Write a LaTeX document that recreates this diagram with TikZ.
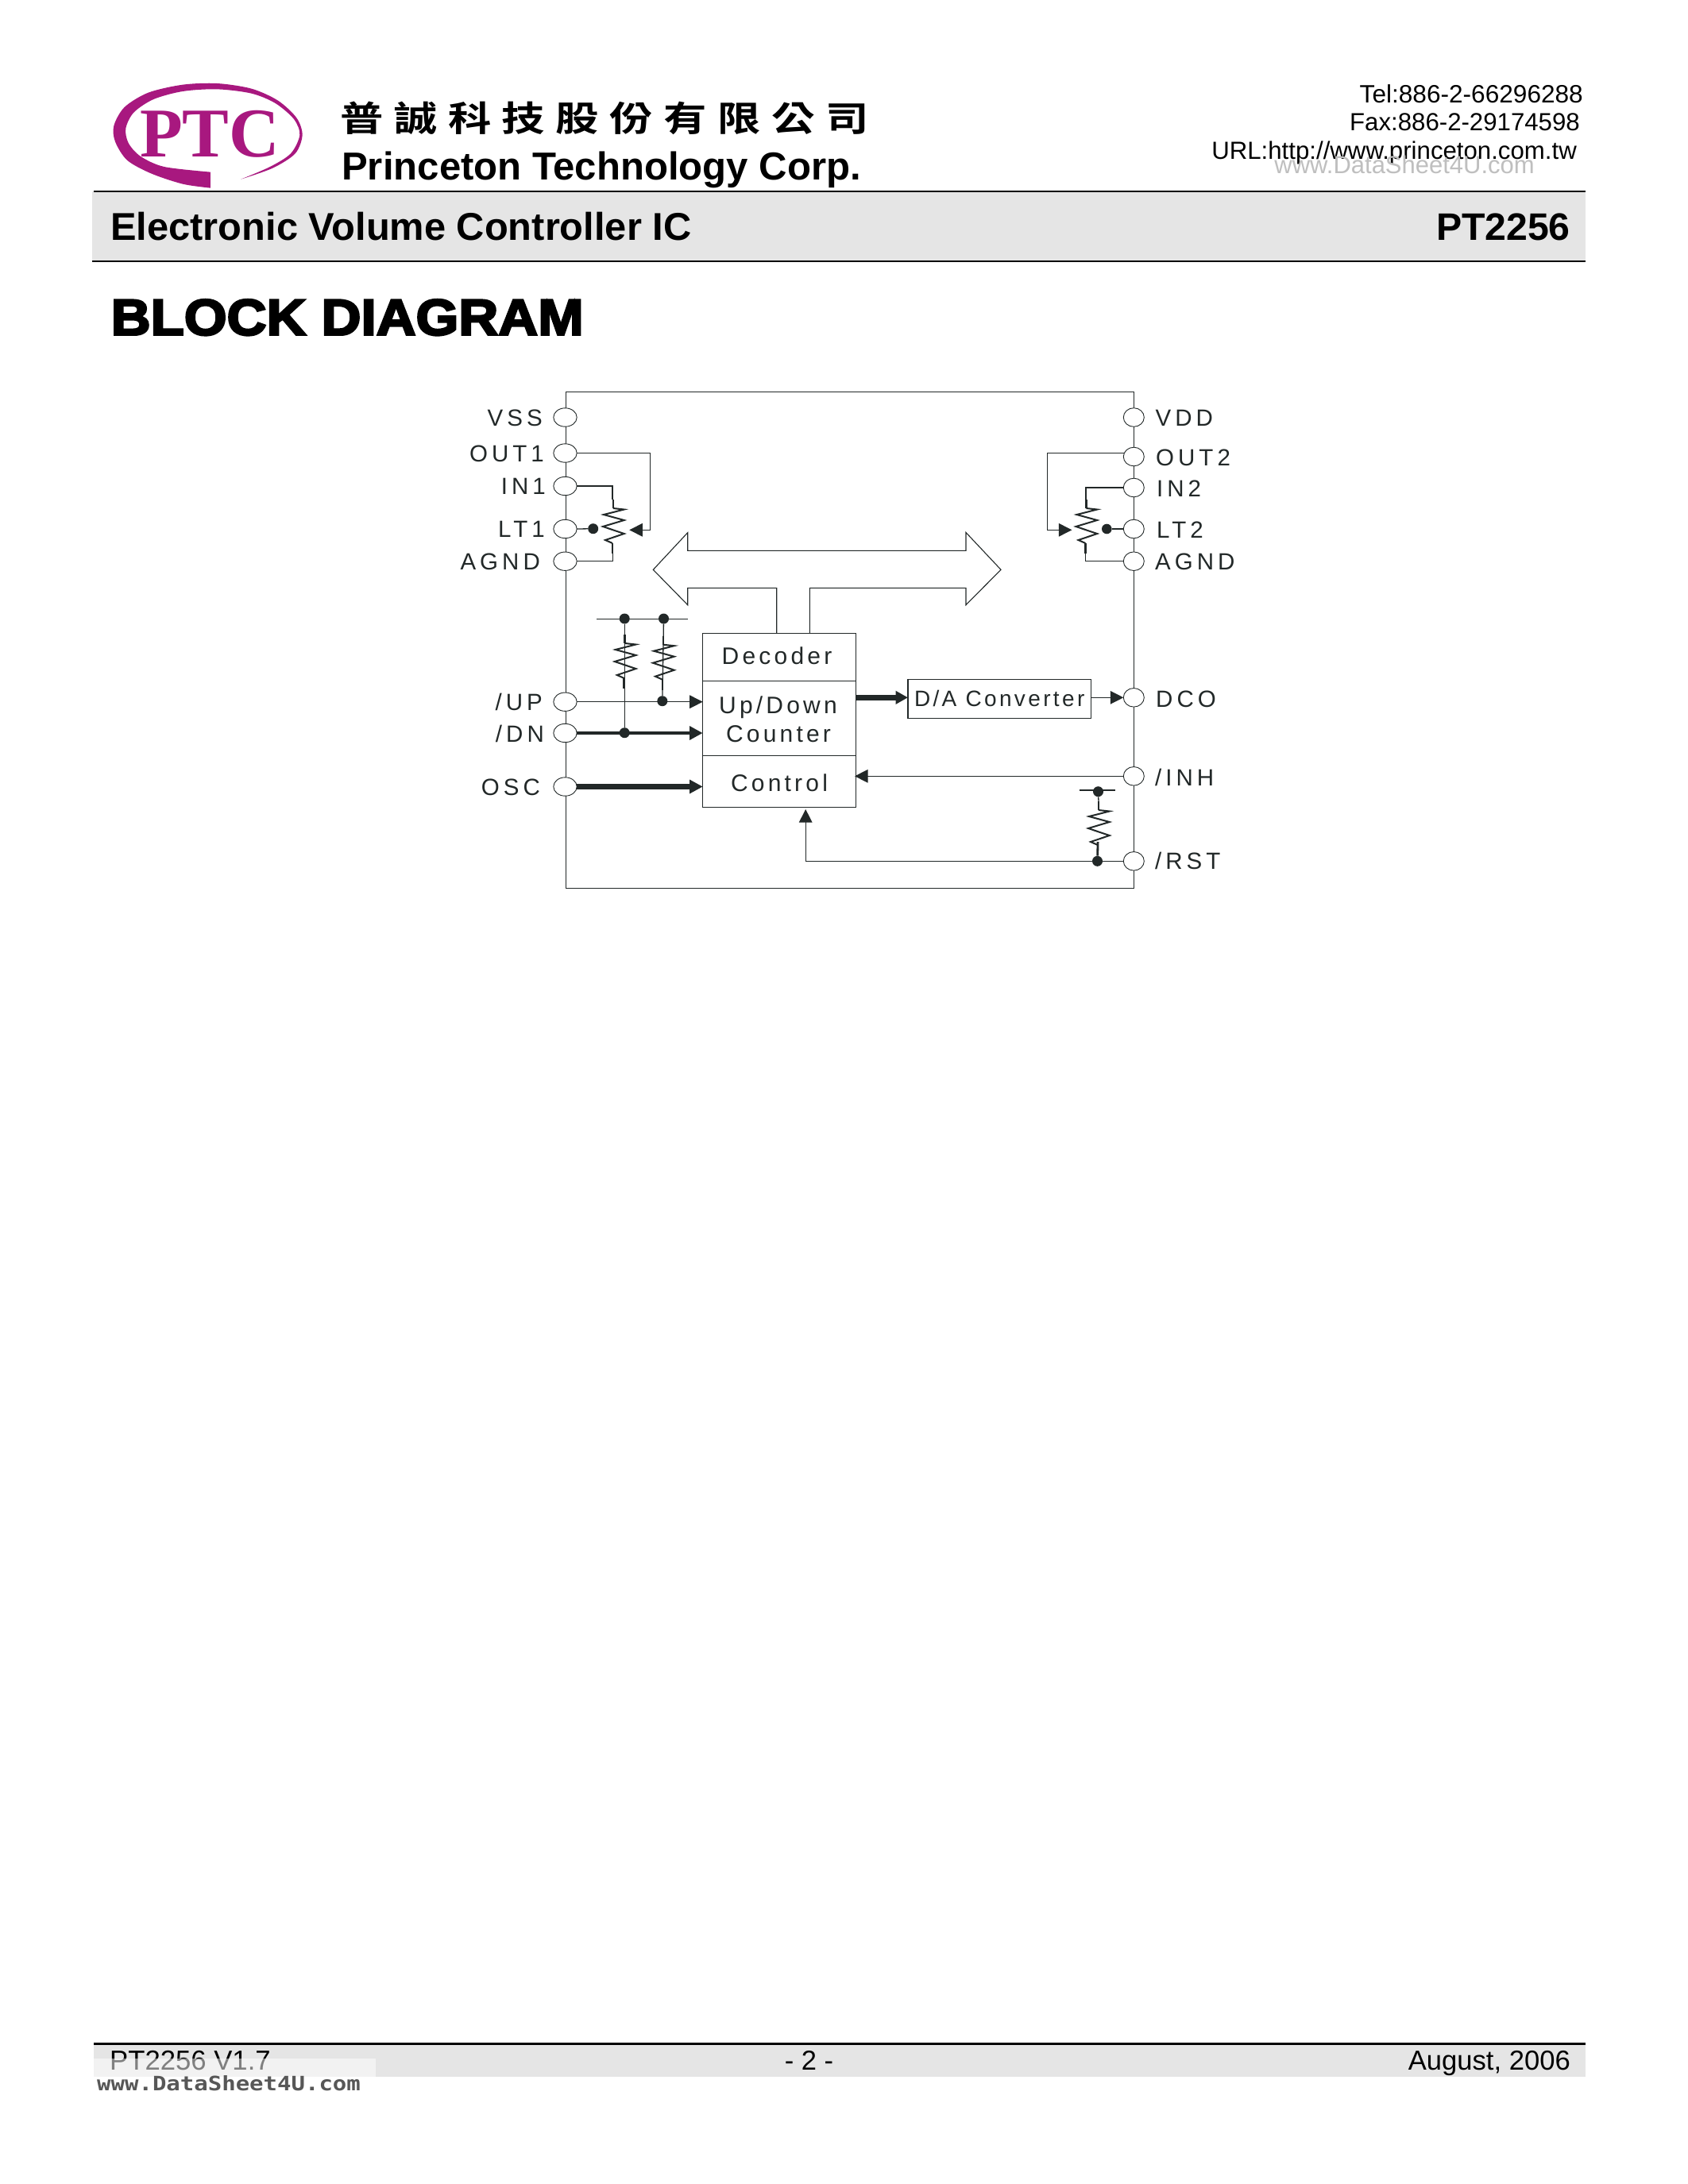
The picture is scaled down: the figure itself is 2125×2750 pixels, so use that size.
\documentclass[tikz,border=0pt]{standalone}
\usepackage{fontspec}
\usetikzlibrary{arrows.meta,shapes.geometric}
\setmainfont{Liberation Sans}
\newfontfamily\labfont[LetterSpace=17]{Liberation Sans}
\newfontfamily\blockfont[LetterSpace=14]{Liberation Sans}
\newfontfamily\dafont[LetterSpace=12]{Liberation Sans}
\newfontfamily\heavyfont[FakeBold=4,FakeStretch=1.08]{Liberation Sans Bold}
\newfontfamily\logofont{Liberation Serif Bold}
\newfontfamily\monofont{DejaVu Sans Mono Bold}
\newfontfamily\cjkfont[LetterSpace=25]{Noto Sans CJK TC Bold}
\newcommand\pxfont[1]{\fontsize{#1}{#1}\selectfont}
\definecolor{ink}{HTML}{222828}
\definecolor{band}{HTML}{E5E5E5}
\definecolor{ptc}{HTML}{A8187F}
\tikzset{
  wire/.style={draw=ink,line width=1.3pt,line join=miter},
  hvy/.style={draw=ink,line width=4.5pt},
  hvyy/.style={draw=ink,line width=6.7pt},
  tip/.style={-{Triangle[length=16.5pt,width=16.5pt,fill=ink]}},
  pinl/.style={ellipse,draw=ink,line width=0.9pt,fill=white,inner sep=0pt,outer sep=0pt,minimum width=29.4pt,minimum height=23.4pt},
  pinr/.style={ellipse,draw=ink,line width=0.9pt,fill=white,inner sep=0pt,outer sep=0pt,minimum width=26pt,minimum height=23.6pt},
  lab/.style={inner sep=0pt,text=ink,font=\labfont\pxfont{29.5}},
  labl/.style={lab,anchor=base east},
  labr/.style={lab,anchor=base west},
  blockbox/.style={draw=ink,line width=1.3pt,inner sep=0pt,outer sep=0pt,minimum width=192.6pt,text=ink,font=\blockfont\pxfont{30},align=center},
  dotnode/.style={circle,fill=ink,inner sep=0pt,minimum size=13pt},
  head/.style={inner sep=0pt,text=black},
  zig/.pic={
    \draw[draw=ink,line width=2pt,line join=miter] (0,0)--(13.7,1.5)--(-12,8)--(13.7,15)--(-13,23)--(13.7,32)--(-10,40)--(-1,44);
    \draw[draw=ink,line width=2.8pt] (0,-11)--(0,0) (-1,44)--(-1,57);
  }
}
\begin{document}
\begin{tikzpicture}[x=1pt,y=-1pt]
\useasboundingbox (0,0) rectangle (2125,2750);
\fill[white] (0,0) rectangle (2125,2750);

% --- logo
\begin{scope}[xshift=130pt,yshift=-95pt,x=0.3333pt,y=-0.3333pt]
\fill[ptc] plot[smooth] coordinates {(405,425)(300,410)(180,370)(90,320)(45,250)(40,190)(80,120)(170,65)(300,35)(430,30)(560,50)(660,95)(730,160)(752,225)(725,295)(640,350)(520,392)}
 -- plot[smooth] coordinates {(520,392)(630,345)(708,295)(742,225)(720,165)(650,105)(560,68)(430,52)(300,60)(190,90)(115,140)(85,200)(95,255)(140,305)(230,345)(405,365)} -- cycle;
\end{scope}
\node[head,anchor=base,text=ptc,font=\logofont\pxfont{88}] (logoptc) at (264,197) {PTC};
\node[head,anchor=base west,font=\cjkfont\pxfont{44}] (cjkname) at (428,165) {\scalebox{1.235}[1]{普誠科技股份有限公司}};
\node[head,anchor=base west,font=\bfseries\pxfont{49.1}] (engname) at (430,226.7) {Princeton Technology Corp.};

% --- contact
\node[head,anchor=base east,font=\pxfont{31.6}] (tel) at (1993,129.3) {Tel:886-2-66296288};
\node[head,anchor=base east,font=\pxfont{31.2}] (fax) at (1989,164) {Fax:886-2-29174598};
\node[head,anchor=base east,font=\pxfont{31.2}] (url) at (1985,200.7) {URL:http://www.princeton.com.tw};
\node[head,anchor=base east,text=black!25,font=\pxfont{31}] (wm1) at (1932,218) {www.DataSheet4U.com};

% --- header band
\fill[band] (116,241) rectangle (1996,328);
\draw[black,line width=2pt] (118,241) -- (1996,241);
\draw[black,line width=2pt] (116,328.5) -- (1996,328.5);
\node[head,anchor=base west,font=\bfseries\pxfont{48.8}] (title) at (139,302.7) {Electronic Volume Controller IC};
\node[head,anchor=base east,font=\bfseries\pxfont{48.2}] (part) at (1977,302.7) {PT2256};
\node[head,anchor=base west,font=\heavyfont\pxfont{64}] (bd) at (139.5,421.7) {BLOCK DIAGRAM};

% --- chip outline
\draw[wire] (712.8,493.3) rectangle (1427.3,1118.3);

% --- double arrow / bus
\draw[wire,line width=1.1pt] (977.7,797.3) -- (977.7,740.3) -- (865.7,740.3) -- (865.7,761.7) -- (822.3,717.3) -- (865.7,670.7) -- (865.7,693.3) -- (1216,693.3) -- (1216,670.5) -- (1260,717.3) -- (1216,761.7) -- (1216,740.3) -- (1019.4,740.3) -- (1019.4,797.3);

% --- blocks
\node[blockbox,minimum height=60pt,text height=18.8pt,text depth=0pt] (decoder) at (981,827.3) {Decoder\kern6pt};
\node[blockbox,minimum height=94pt] (counter) at (981,904.3) {\rule{0pt}{24pt}Up/Down\kern3pt\\[6pt]Counter\kern2pt};
\node[blockbox,minimum height=65pt,text height=25.4pt,text depth=0pt] (control) at (981,983.8) {Control};
\node[draw=ink,line width=1.3pt,inner sep=0pt,outer sep=0pt,minimum width=230.4pt,minimum height=49pt,text=ink,font=\dafont\pxfont{28},text height=19pt,text depth=0pt] (da) at (1258.2,879.8) {D/A Converter};

% --- pins left
\node[pinl] (vss) at (711.5,525.5) {};
\node[pinl] (out1) at (711.5,570.5) {};
\node[pinl] (in1) at (711.5,612) {};
\node[pinl] (lt1) at (711.5,666) {};
\node[pinl] (agndl) at (711.5,706.7) {};
\node[pinl] (up) at (711.5,883.7) {};
\node[pinl] (dn) at (711.5,923) {};
\node[pinl] (osc) at (711.5,990.5) {};
% --- pins right
\node[pinr] (vdd) at (1427.3,525.5) {};
\node[pinr] (out2) at (1427.3,575) {};
\node[pinr] (in2) at (1427.3,614) {};
\node[pinr] (lt2) at (1427.3,666) {};
\node[pinr] (agndr) at (1427.3,706.7) {};
\node[pinr] (dco) at (1427.3,878.3) {};
\node[pinr] (inh) at (1427.3,977.3) {};
\node[pinr] (rst) at (1427.3,1084.3) {};

% --- labels
\node[labl] (tvss) at (683,536) {VSS};
\node[labl] (tout1) at (685,581) {OUT1};
\node[labl] (tin1) at (687,622.7) {IN1};
\node[labl] (tlt1) at (686,676.7) {LT1};
\node[labl] (tagndl) at (680,717.7) {AGND};
\node[labl] (tup) at (683,894) {/UP};
\node[labl] (tdn) at (685,934) {/DN};
\node[labl] (tosc) at (680,1001) {OSC};
\node[labr] (tvdd) at (1454.5,536.7) {VDD};
\node[labr] (tout2) at (1455,586) {OUT2};
\node[labr] (tin2) at (1456,625) {IN2};
\node[labr] (tlt2) at (1456,677.7) {LT2};
\node[labr] (tagndr) at (1454,717) {AGND};
\node[labr] (tdco) at (1455,890) {DCO};
\node[labr] (tinh) at (1454,989) {/INH};
\node[labr] (trst) at (1454,1094) {/RST};

% --- left volume resistor
\pic at (772,640) {zig};
\coordinate (r1t) at (771,629);
\coordinate (r1b) at (771.5,697);
\node[dotnode] (d1) at (746.7,665.7) {};
\draw[wire] (in1.east) -| (r1t);
\draw[wire] (r1b) |- (agndl.east);
\draw[wire] (lt1.east) -- (d1);
\coordinate (tipl) at (792.3,667.3);
\draw[wire,tip] (out1.east) -| (818.7,667.3) -- (tipl);

% --- right volume resistor
\pic at (1367.5,640) {zig};
\coordinate (r5t) at (1367,640);
\coordinate (r5b) at (1366.5,697);
\node[dotnode,minimum size=12.6pt] (d5) at (1393.3,666) {};
\draw[wire] (in2.west) -| (r5t);
\draw[wire] (r5b) |- (agndr.west);
\draw[wire] (lt2.west) -- (d5);
\coordinate (tipr) at (1349.4,667.3);
\draw[wire,tip] (out2.160) -| (1318.3,667.3) -- (tipr);

% --- pull-ups on /UP and /DN
\coordinate (busl) at (751,779.3);
\coordinate (busr) at (865.8,779.3);
\draw[wire] (busl) -- (busr);
\node[dotnode] (d2) at (786.2,779) {};
\node[dotnode] (d3) at (835.5,779) {};
\node[dotnode] (d4) at (786.2,922.7) {};
\node[dotnode] (d6) at (833.8,882.7) {};
\draw[wire] (d2) -- (d4);
\draw[wire] (d3) -- (d6);
\pic at (786.8,810) {zig};
\begin{scope}[shift={(835,811.7)},xscale=.87]
\pic at (0,0) {zig};
\end{scope}

% --- inputs
\draw[wire,tip] (up.east) -- (counter.west |- up.east);
\draw[hvy,-{Triangle[length=16.5pt,width=16.5pt,fill=ink]}] (dn.east) -- (counter.west |- dn.east);
\draw[hvyy,-{Triangle[length=16.5pt,width=16.5pt,fill=ink]}] (osc.east) -- (control.west |- osc.east);

% --- outputs and control
\draw[hvyy,-{Triangle[length=15.5pt,width=16pt,fill=ink]}] (counter.east |- dco) -- (da.west |- dco);
\draw[wire,tip] (da.east |- dco) -- (dco.west);
\draw[wire,tip] (inh.west) -- (1076,977.3);
\node[dotnode] (d7) at (1382.5,996.7) {};
\node[dotnode] (d8) at (1381.5,1084.3) {};
\coordinate (bus2l) at (1358.5,995);
\coordinate (bus2r) at (1404,995);
\draw[wire] (bus2l) -- (bus2r);
\draw[wire] (d7) -- (1383,1010);
\begin{scope}[shift={(1383,1020)},xscale=1,yscale=.85]
\pic at (0,0) {zig};
\end{scope}
\draw[draw=ink,line width=2.8pt] (1382.1,1060) -- (d8);
\coordinate (ctrltip) at (1014.2,1019);
\draw[wire,tip] (rst.west) -| (ctrltip);

% --- footer
\fill[band] (118,2573) rectangle (1996,2615);
\draw[black,line width=3pt] (118,2573.3) -- (1996,2573.3);
\node[head,anchor=base west,font=\pxfont{34.7}] (fver) at (138,2606) {PT2256 V1.7};
\node[head,anchor=base,font=\pxfont{34.5}] (fpage) at (1018.5,2606) {- 2 -};
\node[head,anchor=base east,font=\pxfont{34.6}] (fdate) at (1977,2606) {August, 2006};
\fill[white,opacity=.5] (116,2592) rectangle (473,2643);
\node[head,anchor=base west,text=black!66,font=\monofont\pxfont{29}] (wm2) at (122,2632) {\scalebox{1}[0.86]{www.DataSheet4U.com}};
\end{tikzpicture}
\end{document}
